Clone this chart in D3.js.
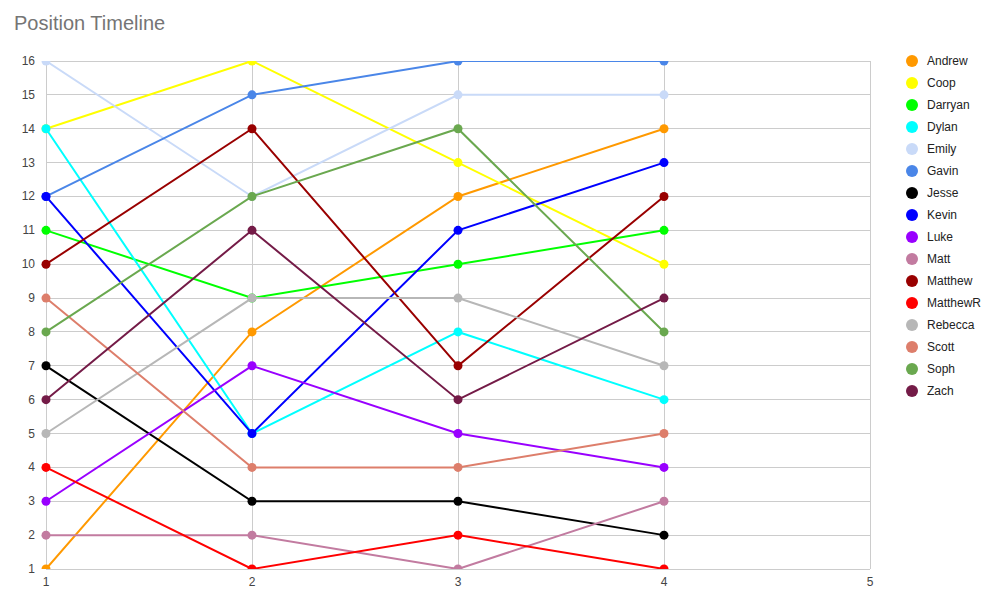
<!DOCTYPE html>
<html><head><meta charset="utf-8">
<script src="https://cdn.jsdelivr.net/npm/d3@7"></script>
<style>body{margin:0;background:#fff;font-family:Arial,"Liberation Sans",sans-serif;}</style>
</head><body>
<svg id="c" width="991" height="607" font-family="Arial, 'Liberation Sans', sans-serif"></svg>
<script>
const xValues = [1, 2, 3, 4];
const names = ["Andrew","Coop","Darryan","Dylan","Emily","Gavin","Jesse","Kevin","Luke","Matt","Matthew","MatthewR","Rebecca","Scott","Soph","Zach"];
const colors = ["#ff9900","#ffff00","#00ff00","#00ffff","#c9daf8","#4a86e8","#000000","#0000ff","#9900ff","#c27ba0","#990000","#ff0000","#b7b7b7","#dd7e6b","#6aa84f","#741b47"];
const andrew = [1, 8, 12, 14];
const coop = [14, 16, 13, 10];
const darryan = [11, 9, 10, 11];
const dylan = [14, 5, 8, 6];
const emily = [16, 12, 15, 15];
const gavin = [12, 15, 16, 16];
const jesse = [7, 3, 3, 2];
const kevin = [12, 5, 11, 13];
const luke = [3, 7, 5, 4];
const matt = [2, 2, 1, 3];
const matthew = [10, 14, 7, 12];
const matthewR = [4, 1, 2, 1];
const rebecca = [5, 9, 9, 7];
const scott = [9, 4, 4, 5];
const soph = [8, 12, 14, 8];
const zach = [6, 11, 6, 9];
const seriesValues = [andrew, coop, darryan, dylan, emily, gavin, jesse, kevin, luke, matt, matthew, matthewR, rebecca, scott, soph, zach];
const xTicks = [1, 2, 3, 4, 5];
const yTicks = d3.range(1, 17);

const svg = d3.select("#c");
const L = 46, R = 870, T = 61, B = 569;
const x = d3.scaleLinear().domain([1, 5]).range([L, R]);
const y = d3.scaleLinear().domain([1, 16]).range([B, T]);

svg.append("text").attr("x", 14).attr("y", 30).attr("font-size", 20).attr("fill", "#757575").text("Position Timeline");

svg.append("defs").append("clipPath").attr("id", "clip").append("rect")
  .attr("x", L - 10).attr("y", T).attr("width", R - L + 20).attr("height", B - T);

const g = svg.append("g");
g.selectAll("line.h").data(yTicks).join("line").attr("x1", L).attr("x2", R)
  .attr("y1", d => y(d)).attr("y2", d => y(d)).attr("stroke", "#cccccc").attr("stroke-width", 1).attr("shape-rendering", "crispEdges");
g.selectAll("line.v").data(xTicks).join("line").attr("y1", T).attr("y2", B)
  .attr("x1", d => x(d)).attr("x2", d => x(d)).attr("stroke", "#cccccc").attr("stroke-width", 1).attr("shape-rendering", "crispEdges");

g.selectAll("text.yt").data(yTicks).join("text").attr("x", 35).attr("y", d => y(d) + 4)
  .attr("text-anchor", "end").attr("font-size", 12).attr("fill", "#444").text(d => d);
g.selectAll("text.xt").data(xTicks).join("text").attr("x", d => x(d)).attr("y", 586)
  .attr("text-anchor", "middle").attr("font-size", 12).attr("fill", "#444").text(d => d);

const plot = svg.append("g").attr("clip-path", "url(#clip)");
const line = d3.line().x((d, i) => x(xValues[i])).y(d => y(d));
seriesValues.forEach((vals, si) => {
  plot.append("path").attr("d", line(vals)).attr("fill", "none").attr("stroke", colors[si]).attr("stroke-width", 2);
  plot.selectAll(null).data(vals).join("circle").attr("cx", (d, i) => x(xValues[i])).attr("cy", d => y(d))
    .attr("r", 4.5).attr("fill", colors[si]);
});

const leg = svg.append("g");
names.forEach((n, i) => {
  const yy = 61 + i * 22;
  leg.append("circle").attr("cx", 912).attr("cy", yy).attr("r", 6).attr("fill", colors[i]);
  leg.append("text").attr("x", 927).attr("y", yy + 4).attr("font-size", 12).attr("fill", "#222").text(n);
});
</script>
</body></html>
